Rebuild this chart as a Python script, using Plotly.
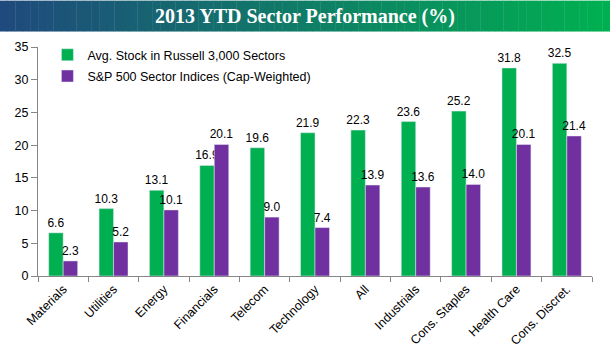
import plotly.graph_objects as go

categories = ["Materials", "Utilities", "Energy", "Financials", "Telecom", "Technology",
              "All", "Industrials", "Cons. Staples", "Health Care", "Cons. Discret."]
russell_avg = [6.6, 10.3, 13.1, 16.9, 19.6, 21.9, 22.3, 23.6, 25.2, 31.8, 32.5]
sp500_cap = [2.3, 5.2, 10.1, 20.1, 9.0, 7.4, 13.9, 13.6, 14.0, 20.1, 21.4]
series_names = ["Avg. Stock in Russell 3,000 Sectors", "S&P 500 Sector Indices (Cap-Weighted)"]
y_ticks = [0, 5, 10, 15, 20, 25, 30, 35]

GREEN = "#00B050"
PURPLE = "#7030A0"
FONT = "Liberation Sans"

fig = go.Figure()
fig.add_trace(go.Bar(x=categories, y=russell_avg, name=series_names[0], marker_color=GREEN,
                     legendgroup="a",
                     text=[f"{v:.1f}" for v in russell_avg], textposition="outside",
                     constraintext="none",
                     textfont=dict(size=12, color="black", family=FONT), cliponaxis=False))
fig.add_trace(go.Bar(x=categories, y=sp500_cap, name=series_names[1], marker_color=PURPLE,
                     legendgroup="b",
                     text=[f"{v:.1f}" for v in sp500_cap], textposition="outside",
                     constraintext="none",
                     textfont=dict(size=12, color="black", family=FONT), cliponaxis=False))

# gradient title bar
n = 80
c0 = (31, 74, 125)
c1 = (0, 176, 80)
shapes = []
for i in range(n):
    t = i / (n - 1)
    col = tuple(round(c0[k] + (c1[k] - c0[k]) * t) for k in range(3))
    shapes.append(dict(type="rect", xref="paper", yref="paper",
                       x0=-38 / 554 + i * (610 / 554) / n,
                       x1=-38 / 554 + (i + 1.05) * (610 / 554) / n,
                       y0=1 + 15.5 / 229.5, y1=1 + 46.5 / 229.5,
                       fillcolor="rgb(%d,%d,%d)" % col, line=dict(width=0), layer="below"))

fig.update_layout(
    width=610, height=358,
    margin=dict(l=38, r=18, t=46.5, b=82, autoexpand=False),
    paper_bgcolor="white", plot_bgcolor="white",
    barmode="group", bargap=0.425, bargroupgap=0,
    font=dict(family=FONT, size=12, color="black"),
    shapes=shapes,
    showlegend=True,
    legend=dict(x=0.017, y=1.03, xanchor="left", yanchor="top",
                font=dict(size=12.5, family=FONT), bgcolor="rgba(0,0,0,0)",
                itemwidth=30, tracegroupgap=2),
    annotations=[dict(text="<b>2013 YTD Sector Performance (%)</b>", xref="paper", yref="paper",
                      x=(305 - 38) / 554, y=1 + 31 / 229.5, xanchor="center", yanchor="middle",
                      showarrow=False,
                      font=dict(family="Liberation Serif", size=20, color="white"))],
    xaxis=dict(showline=True, linecolor="#868686", linewidth=1, ticks="outside",
               tickcolor="#868686", ticklen=5, tickson="boundaries", tickangle=-45,
               tickfont=dict(size=12.5, family=FONT), showgrid=False, automargin=False),
    yaxis=dict(range=[0, 35], tickvals=y_ticks, showline=True, linecolor="#868686",
               linewidth=1, ticks="outside", tickcolor="#868686", ticklen=6,
               showgrid=False, zeroline=False, tickfont=dict(size=12.5, family=FONT),
               automargin=False),
)

fig.write_html("out.html", config={"displayModeBar": False},
               post_script="document.body.style.margin='0';")
